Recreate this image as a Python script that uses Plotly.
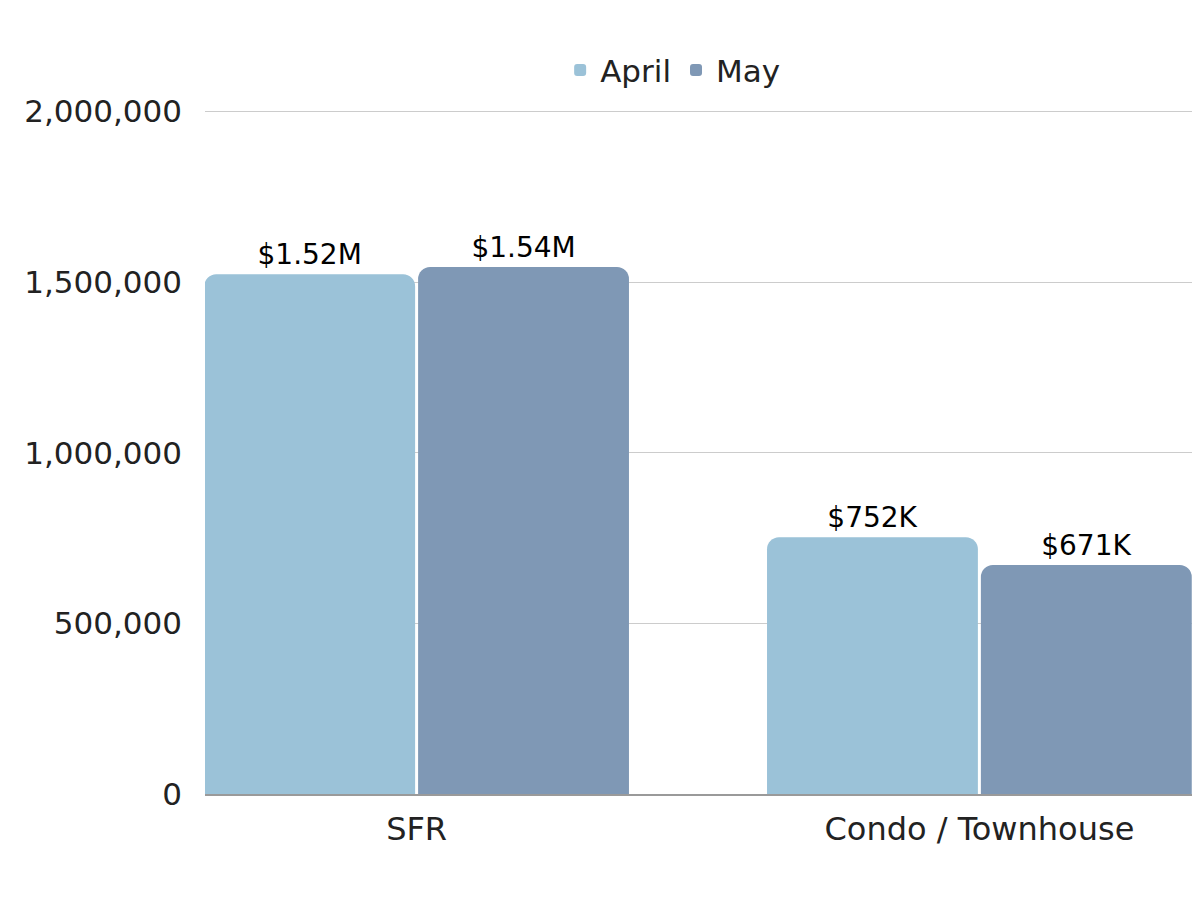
import plotly.graph_objects as go

categories = ["SFR", "Condo / Townhouse"]
april_values = [1523000, 752000]
may_values = [1544000, 671000]
series_names = ["April", "May"]
y_tick_values = [0, 500000, 1000000, 1500000, 2000000]
y_tick_labels = ["0", "500,000", "1,000,000", "1,500,000", "2,000,000"]

FONT = "DejaVu Sans"
colors = ["#9BC2D8", "#7F98B5"]


def fmt(v):
    if v >= 1_000_000:
        return f"${v/1e6:.2f}M"
    return f"${v/1e3:.0f}K"


fig = go.Figure()
for name, vals, col in zip(series_names, [april_values, may_values], colors):
    fig.add_trace(go.Bar(
        name=name,
        x=categories,
        y=vals,
        marker=dict(color=col, cornerradius=12, line=dict(width=0)),
        text=[fmt(v) for v in vals],
        textposition="outside",
        textfont=dict(family=FONT, size=28, color="#000000"),
        cliponaxis=False,
    ))

fig.update_layout(
    width=1192, height=892,
    barmode="group",
    bargap=0.24,
    bargroupgap=0.014,
    plot_bgcolor="white",
    paper_bgcolor="white",
    margin=dict(l=197, r=0, t=102, b=106, autoexpand=False),
    font=dict(family=FONT, size=31, color="#222222"),
    legend=dict(orientation="h", x=0.47, xanchor="center", y=1.058, yanchor="middle",
                font=dict(family=FONT, size=31, color="#222222"),
                itemwidth=30, traceorder="normal"),
    showlegend=True,
)
fig.update_xaxes(
    range=[-0.376, 1.392],
    showline=True, linecolor="#9a9a9a", linewidth=1.5,
    ticks="", ticklabelstandoff=6,
    tickfont=dict(family=FONT, size=32, color="#222222"),
    showgrid=False, automargin=False,
)
fig.update_yaxes(
    range=[0, 2004000],
    tickvals=y_tick_values, ticktext=y_tick_labels,
    showgrid=True, gridcolor="#cccccc", gridwidth=1,
    zeroline=False, showline=False,
    ticks="", ticklabelstandoff=22,
    tickfont=dict(family=FONT, size=31, color="#222222"),
    automargin=False,
)

fig.write_html("out.html")
